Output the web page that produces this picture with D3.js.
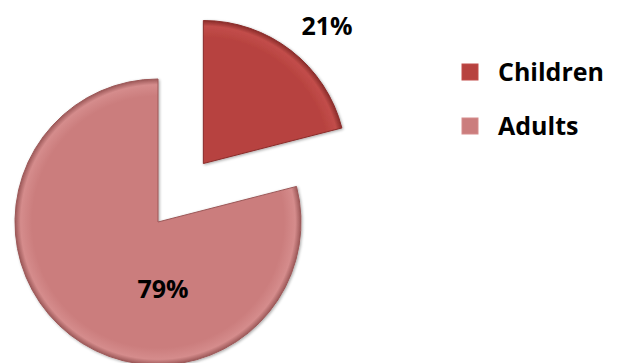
<!DOCTYPE html>
<html>
<head>
<meta charset="utf-8">
<script src="https://cdn.jsdelivr.net/npm/d3@7"></script>
<style>
  html, body { margin: 0; padding: 0; background: #ffffff; }
  svg { display: block; }
  text { font-family: "Open Sans", "Liberation Sans", sans-serif; font-weight: 700; fill: #000; }
</style>
</head>
<body>
<svg id="chart" width="622" height="363"></svg>
<script>
const categories = ["Children", "Adults"];
const values = [21, 79];
const labels = ["21%", "79%"];
const colors = ["#b7423f", "#cb7d7d"];
const edgeColors = ["#8a2c2a", "#9c5858"];
const lightColors = ["#c24d4a", "#d58c8c"];

const W = 622, H = 363;
const cx = 158, cy = 222, R = 143;
const explode = [74, 0];

const svg = d3.select("#chart");
const defs = svg.append("defs");

categories.forEach((c, i) => {
  const g = defs.append("radialGradient")
    .attr("id", "grad" + i)
    .attr("gradientUnits", "userSpaceOnUse")
    .attr("cx", 0).attr("cy", 0).attr("r", R);
  g.append("stop").attr("offset", "0%").attr("stop-color", colors[i]);
  g.append("stop").attr("offset", "88%").attr("stop-color", colors[i]);
  g.append("stop").attr("offset", "96%").attr("stop-color", lightColors[i]);
  g.append("stop").attr("offset", "100%").attr("stop-color", edgeColors[i]);
});

const f = defs.append("filter").attr("id", "shadow").attr("x", "-20%").attr("y", "-20%").attr("width", "140%").attr("height", "140%");
f.append("feGaussianBlur").attr("in", "SourceAlpha").attr("stdDeviation", 1.5).attr("result", "b");
f.append("feOffset").attr("in", "b").attr("dx", 1).attr("dy", 1).attr("result", "o");
f.append("feComponentTransfer").attr("in", "o").attr("result", "s")
  .append("feFuncA").attr("type", "linear").attr("slope", 0.35);
const fm = f.append("feMerge");
fm.append("feMergeNode").attr("in", "s");
fm.append("feMergeNode").attr("in", "SourceGraphic");

const pie = d3.pie().sort(null).value(d => d).startAngle(0).endAngle(2 * Math.PI);
const arcs = pie(values);
const arc = d3.arc().innerRadius(0).outerRadius(R);

const g = svg.append("g").attr("transform", `translate(${cx},${cy})`);

g.selectAll("g.slice")
  .data(arcs)
  .enter()
  .append("g")
  .attr("class", "slice")
  .attr("transform", (d, i) => {
    const a = (d.startAngle + d.endAngle) / 2;
    return `translate(${Math.sin(a) * explode[i]},${-Math.cos(a) * explode[i]})`;
  })
  .append("path")
  .attr("d", arc)
  .attr("fill", (d, i) => `url(#grad${i})`)
  .attr("stroke", (d, i) => edgeColors[i])
  .attr("stroke-width", 1)
  .attr("stroke-linejoin", "round")
  .attr("filter", "url(#shadow)");

// Data labels
const labelPos = [[169, -187], [5, 76]];
g.selectAll("text.lbl")
  .data(arcs)
  .enter()
  .append("text")
  .attr("class", "lbl")
  .attr("x", (d, i) => labelPos[i][0])
  .attr("y", (d, i) => labelPos[i][1])
  .attr("text-anchor", "middle")
  .style("font-size", "25px")
  .text((d, i) => labels[i]);

// Legend
const legend = svg.append("g").attr("transform", "translate(462,0)");
const legendY = d3.scalePoint().domain(categories).range([72, 126]);
const lg = legend.selectAll("g.item").data(categories).enter().append("g")
  .attr("class", "item")
  .attr("transform", d => `translate(0,${legendY(d)})`);
lg.append("rect")
  .attr("x", 0).attr("y", -8).attr("width", 16).attr("height", 16)
  .attr("fill", (d, i) => colors[i])
  .attr("stroke", (d, i) => lightColors[i])
  .attr("stroke-width", 1);
lg.append("text")
  .attr("x", 36).attr("y", 9)
  .style("font-size", "25px")
  .text(d => d);
</script>
</body>
</html>
